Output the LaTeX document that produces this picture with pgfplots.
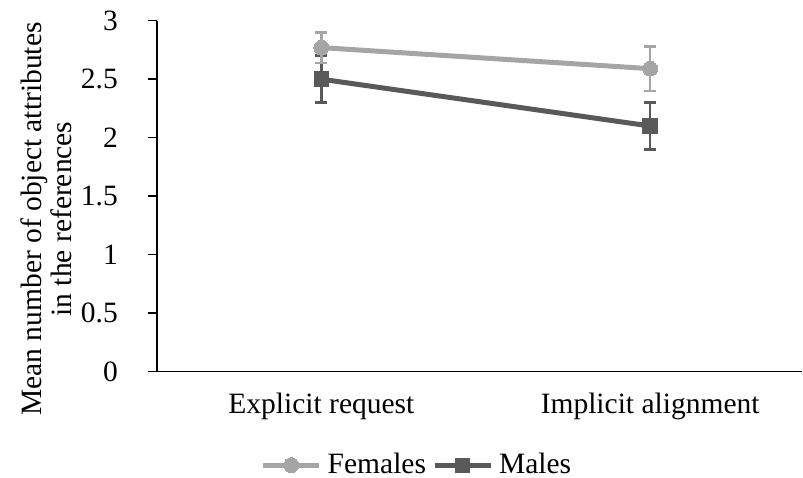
\documentclass[border=0pt]{standalone}
\usepackage{pgfplots}
\pgfplotsset{compat=1.18}
\usepackage{fontspec}
\setmainfont{Liberation Serif}
\definecolor{fem}{HTML}{A5A5A5}
\definecolor{mal}{HTML}{595959}
\begin{document}
\fontsize{29.5}{32}\selectfont
\begin{tikzpicture}
\begin{axis}[
  scale only axis, width=645pt, height=351pt,
  xmin=-0.5, xmax=1.462, ymin=0, ymax=3,
  axis lines*=left,
  axis line style={line width=1.5pt, black},
  xtick={0,1}, xticklabels={Explicit request, Implicit alignment},
  ytick={0,0.5,1,1.5,2,2.5,3},
  yticklabels={0,0.5,1,1.5,2,2.5,3},
  x tick style={draw=none},
  y tick style={line width=1.5pt, black},
  tick align=outside, major tick length=9pt,
  every tick label/.append style={font=\fontsize{29.5}{32}\selectfont},
  yticklabel style={anchor=east, inner sep=0pt, xshift=-30pt},
  xticklabel style={anchor=north, inner sep=0pt, yshift=-12pt},
  legend style={draw=none, at={(rel axis cs:0.403,-0.266)}, anchor=center,
    font=\fontsize{29.5}{32}\selectfont, column sep=4pt, inner sep=0pt},
  legend columns=2,
  legend image code/.code={\draw[#1, mark repeat=2, mark phase=2] plot coordinates {(0pt,0pt) (28pt,0pt) (56pt,0pt)};},
  clip=false,
]
\coordinate (O) at (rel axis cs:0,0);
\addlegendimage{fem, line width=5pt, mark=*, mark size=7.5pt, mark options={solid, line width=0pt}}
\addlegendentry{Females}
\addlegendimage{mal, line width=5pt, mark=square*, mark size=7pt, mark options={solid, line width=0pt}}
\addlegendentry{Males}
% Males
\addplot[forget plot, mal, line width=5pt, mark=square*, mark size=7.3pt,
  mark options={line width=0pt},
  error bars/.cd, y dir=both, y explicit,
  error bar style={line width=2.6pt, mal},
  error mark options={rotate=90, mark size=6pt, line width=2.6pt, mal}]
  coordinates {(0,2.50) +- (0,0.20) (1,2.10) +- (0,0.20)};
% Females
\addplot[forget plot, fem, line width=5pt, mark=*, mark size=7.5pt,
  mark options={line width=0pt},
  error bars/.cd, y dir=both, y explicit,
  error bar style={line width=2.6pt, fem},
  error mark options={rotate=90, mark size=6pt, line width=2.6pt, fem}]
  coordinates {(0,2.77) +- (0,0.13) (1,2.59) +- (0,0.19)};
\node[rotate=90, anchor=base, align=center, inner sep=0pt, font=\fontsize{29.5}{30}\selectfont] at ([xshift=-85.3pt]rel axis cs:0,0.435)
  {Mean number of object attributes\\in the references};
\end{axis}
\pgfresetboundingbox
\path ([shift={(-157pt,-106.3pt)}]O) rectangle ++(803pt,478pt);
\end{tikzpicture}
\end{document}
